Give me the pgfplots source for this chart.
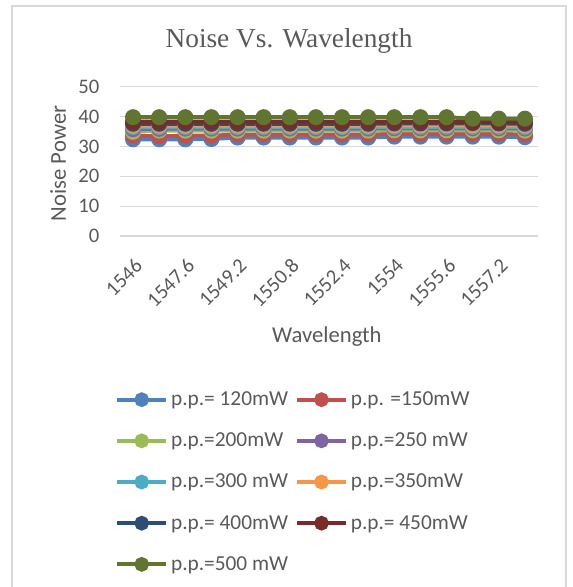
\documentclass[border=0pt]{standalone}
\usepackage{fontspec}
\setmainfont{Carlito}
\newfontfamily\titlefont{Liberation Serif}
\usepackage{pgfplots}
\pgfplotsset{compat=1.18}
\definecolor{textgray}{HTML}{595959}
\definecolor{gridgray}{HTML}{D9D9D9}
\definecolor{cA}{HTML}{4F81BD}
\definecolor{cB}{HTML}{C0504D}
\definecolor{cC}{HTML}{9BBB59}
\definecolor{cD}{HTML}{8064A2}
\definecolor{cE}{HTML}{4BACC6}
\definecolor{cF}{HTML}{F79646}
\definecolor{cG}{HTML}{2C4D75}
\definecolor{cH}{HTML}{772C2A}
\definecolor{cI}{HTML}{5F7530}
\begin{document}
\begin{tikzpicture}
\path[use as bounding box] (0pt,0pt) rectangle (429.75pt,440.25pt);
\draw[gridgray, line width=0.9pt] (9pt,-5pt) rectangle (424.5pt,435.75pt);
\node[text=textgray, font=\titlefont\fontsize{20.5}{24}\selectfont] at (216.75pt,409.5pt) {Noise Vs. Wavelength};
\begin{axis}[
  at={(90pt,375.2pt)}, anchor=north west,
  scale only axis, width=313.5pt, height=112pt,
  xmin=-0.5, xmax=15.5, ymin=0, ymax=50,
  ytick={0,10,...,50},
  xtick={0,2,...,14},
  xticklabels={1546,1547.6,1549.2,1550.8,1552.4,1554,1555.6,1557.2},
  axis line style={draw=none},
  tick style={draw=none},
  ymajorgrids, grid style={gridgray, line width=0.9pt},
  /pgf/number format/assume math mode=true,
  tick label style={font=\fontsize{15.5}{18}\selectfont, text=textgray},
  x tick label style={rotate=45, anchor=east, yshift=-17pt, xshift=-7.5pt},
  y tick label style={xshift=-12pt},
  xlabel={Wavelength}, ylabel={Noise Power},
  label style={font=\fontsize{17}{20}\selectfont, text=textgray},
  xlabel style={at={(axis description cs:0.495,-0.676)}, anchor=center},
  ylabel style={at={(axis description cs:-0.148,0.486)}, anchor=center},
  legend columns=2,
  legend cell align=left,
  legend style={at={(axis description cs:-0.022,-1.005)}, anchor=north west, draw=none, fill=none,
    font=\fontsize{16}{19}\selectfont, text=textgray, row sep=15pt,
    /tikz/every even column/.append style={column sep=3pt}},
  legend image code/.code={\draw[mark repeat=2,mark phase=2, mark size=4pt] plot coordinates {(0pt,0pt)(18.5pt,0pt)(37pt,0pt)};},
  every axis plot/.append style={line width=3pt, mark=*, mark size=4.5pt, mark options={solid}},
]
\addplot[cA, mark options={fill=cA}] coordinates {(0,32.4)(1,32.4)(2,32.4)(3,32.5)(4,33.0)(5,33.0)(6,33.0)(7,33.0)(8,33.0)(9,33.0)(10,33.3)(11,33.3)(12,33.3)(13,33.3)(14,33.3)(15,33.1)};
\addlegendentry{p.p.= 120mW}
\addplot[cB, mark options={fill=cB}] coordinates {(0,33.6)(1,33.4)(2,33.6)(3,33.6)(4,34.0)(5,34.0)(6,34.0)(7,34.0)(8,34.0)(9,34.0)(10,34.2)(11,34.2)(12,34.2)(13,34.2)(14,34.2)(15,34.0)};
\addlegendentry{p.p. =150mW}
\addplot[cC, mark options={fill=cC}] coordinates {(0,34.9)(1,35.3)(2,35.3)(3,35.3)(4,35.3)(5,35.3)(6,35.3)(7,35.3)(8,35.3)(9,35.3)(10,35.4)(11,35.4)(12,35.4)(13,35.4)(14,35.4)(15,35.3)};
\addlegendentry{p.p.=200mW}
\addplot[cD, mark options={fill=cD}] coordinates {(0,35.8)(1,35.9)(2,36.0)(3,36.0)(4,36.0)(5,36.0)(6,36.0)(7,36.0)(8,36.0)(9,36.0)(10,36.1)(11,36.1)(12,36.1)(13,36.1)(14,36.1)(15,36.0)};
\addlegendentry{p.p.=250 mW}
\addplot[cE, mark options={fill=cE}] coordinates {(0,36.5)(1,36.5)(2,36.5)(3,36.5)(4,36.5)(5,36.5)(6,36.5)(7,36.5)(8,36.5)(9,36.5)(10,36.6)(11,36.6)(12,36.6)(13,36.6)(14,36.6)(15,36.5)};
\addlegendentry{p.p.=300 mW}
\addplot[cF, mark options={fill=cF}] coordinates {(0,37.0)(1,37.0)(2,37.0)(3,37.0)(4,37.0)(5,37.0)(6,37.0)(7,37.0)(8,37.0)(9,37.0)(10,37.1)(11,37.1)(12,37.1)(13,37.1)(14,37.1)(15,37.0)};
\addlegendentry{p.p.=350mW}
\addplot[cG, mark options={fill=cG}] coordinates {(0,37.6)(1,37.6)(2,37.6)(3,37.6)(4,37.6)(5,37.6)(6,37.6)(7,37.6)(8,37.6)(9,37.6)(10,37.7)(11,37.7)(12,37.7)(13,37.8)(14,37.7)(15,37.6)};
\addlegendentry{p.p.= 400mW}
\addplot[cH, mark options={fill=cH}] coordinates {(0,38.3)(1,38.3)(2,38.3)(3,38.3)(4,38.3)(5,38.3)(6,38.3)(7,38.3)(8,38.3)(9,38.3)(10,38.3)(11,38.3)(12,38.3)(13,38.2)(14,38.2)(15,38.2)};
\addlegendentry{p.p.= 450mW}
\addplot[cI, mark options={fill=cI}] coordinates {(0,39.8)(1,39.8)(2,39.8)(3,39.8)(4,39.8)(5,39.8)(6,39.8)(7,39.8)(8,39.8)(9,39.8)(10,39.8)(11,39.8)(12,39.8)(13,39.3)(14,39.3)(15,39.3)};
\addlegendentry{p.p.=500 mW}
\end{axis}
\end{tikzpicture}
\end{document}
